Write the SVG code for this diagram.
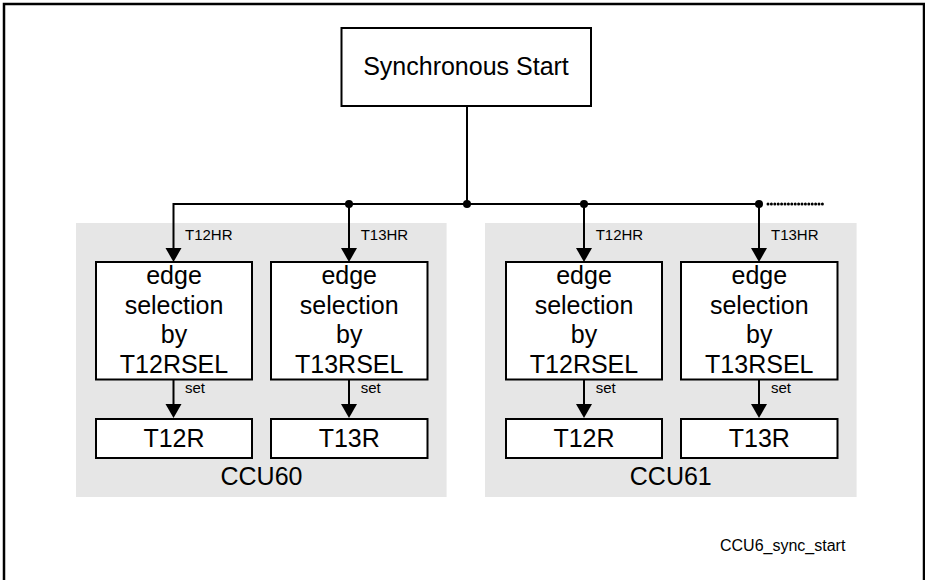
<svg xmlns="http://www.w3.org/2000/svg" width="925" height="580" viewBox="0 0 925 580">
<style>
text{font-family:"Liberation Sans",Arial,sans-serif;fill:#000}
.box{fill:#fff;stroke:#000;stroke-width:2}
.grp{fill:#e6e6e6;stroke:none}
.ln{stroke:#000;stroke-width:2;fill:none}
.big{font-size:25px;text-anchor:middle}
.sm{font-size:15px}
.head{fill:#000}
</style>
<rect x="4" y="4" width="920" height="590" fill="none" stroke="#000" stroke-width="2.5"/>
<g id="ccu60-bg"><rect class="grp" x="76" y="223" width="370.6" height="274"/><text class="big" x="261.5" y="485">CCU60</text></g>
<g id="ccu61-bg"><rect class="grp" x="485" y="223" width="371.6" height="274"/><text class="big" x="670.8" y="485">CCU61</text></g>
<g id="sync"><rect class="box" x="341.5" y="28" width="249.5" height="78"/><text class="big" x="466" y="74.5">Synchronous Start</text></g>
<g id="edge1"><rect class="box" x="96" y="262" width="156" height="117.5"/>
<text class="big" x="174" y="284">edge</text><text class="big" x="174" y="313.5">selection</text><text class="big" x="174" y="343">by</text><text class="big" x="174" y="372.5">T12RSEL</text></g>
<g id="edge2"><rect class="box" x="271" y="262" width="156.5" height="117.5"/>
<text class="big" x="349.2" y="284">edge</text><text class="big" x="349.2" y="313.5">selection</text><text class="big" x="349.2" y="343">by</text><text class="big" x="349.2" y="372.5">T13RSEL</text></g>
<g id="edge3"><rect class="box" x="506" y="262" width="156" height="117.5"/>
<text class="big" x="584" y="284">edge</text><text class="big" x="584" y="313.5">selection</text><text class="big" x="584" y="343">by</text><text class="big" x="584" y="372.5">T12RSEL</text></g>
<g id="edge4"><rect class="box" x="681" y="262" width="156.5" height="117.5"/>
<text class="big" x="759.3" y="284">edge</text><text class="big" x="759.3" y="313.5">selection</text><text class="big" x="759.3" y="343">by</text><text class="big" x="759.3" y="372.5">T13RSEL</text></g>
<g id="t12r-0"><rect class="box" x="96" y="419" width="156" height="39"/><text class="big" x="174" y="446.5">T12R</text></g>
<g id="t13r-0"><rect class="box" x="271" y="419" width="156.5" height="39"/><text class="big" x="349.2" y="446.5">T13R</text></g>
<g id="t12r-1"><rect class="box" x="506" y="419" width="156" height="39"/><text class="big" x="584" y="446.5">T12R</text></g>
<g id="t13r-1"><rect class="box" x="681" y="419" width="156.5" height="39"/><text class="big" x="759.3" y="446.5">T13R</text></g>
<g id="connectors">
<line class="ln" x1="467" y1="106" x2="467" y2="204"/>
<polyline class="ln" points="173.5,250 173.5,204 759,204"/>
<line x1="768" y1="204" x2="823" y2="204" stroke="#000" stroke-width="3" stroke-linecap="round" stroke-dasharray="0 3.4"/>
<line class="ln" x1="349" y1="204" x2="349" y2="250"/>
<line class="ln" x1="584" y1="204" x2="584" y2="250"/>
<line class="ln" x1="759" y1="204" x2="759" y2="250"/>
<circle class="head" cx="349" cy="204" r="4"/>
<circle class="head" cx="467" cy="204" r="4"/>
<circle class="head" cx="584" cy="204" r="4"/>
<circle class="head" cx="759" cy="204" r="4"/>
<polygon class="head" points="165.5,248 181.5,248 173.5,262"/>
<polygon class="head" points="341,248 357,248 349,262"/>
<polygon class="head" points="576,248 592,248 584,262"/>
<polygon class="head" points="751,248 767,248 759,262"/>
<line class="ln" x1="173.5" y1="379" x2="173.5" y2="406"/>
<line class="ln" x1="349" y1="379" x2="349" y2="406"/>
<line class="ln" x1="584" y1="379" x2="584" y2="406"/>
<line class="ln" x1="759" y1="379" x2="759" y2="406"/>
<polygon class="head" points="165.5,404 181.5,404 173.5,418"/>
<polygon class="head" points="341,404 357,404 349,418"/>
<polygon class="head" points="576,404 592,404 584,418"/>
<polygon class="head" points="751,404 767,404 759,418"/>
<text class="sm" x="185" y="239.5">T12HR</text>
<text class="sm" x="360.7" y="239.5">T13HR</text>
<text class="sm" x="595.7" y="239.5">T12HR</text>
<text class="sm" x="771" y="239.5">T13HR</text>
<text class="sm" x="185" y="393">set</text>
<text class="sm" x="360.7" y="393">set</text>
<text class="sm" x="595.7" y="393">set</text>
<text class="sm" x="771" y="393">set</text>
</g>
<text x="720" y="551" style="font-size:16px">CCU6_sync_start</text>
</svg>
